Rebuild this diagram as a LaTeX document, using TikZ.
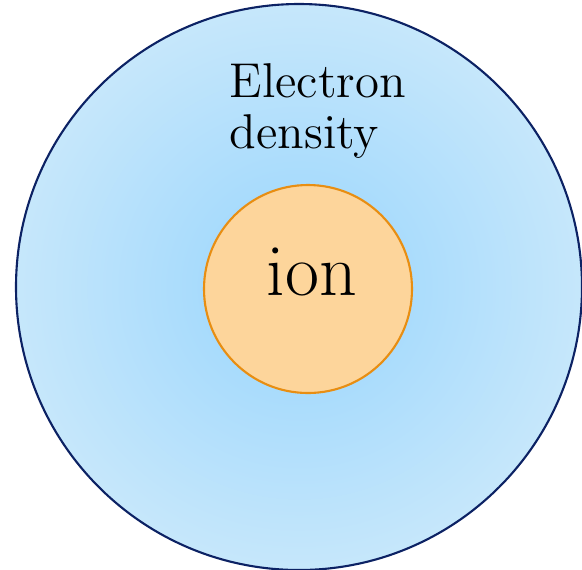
\documentclass[tikz,border=0pt]{standalone}
\usepackage{tikz}
\usetikzlibrary{positioning}
\definecolor{cloudin}{RGB}{152,213,253}
\definecolor{cloudout}{RGB}{198,231,251}
\definecolor{cloudline}{RGB}{12,34,100}
\definecolor{ionfill}{RGB}{253,213,155}
\definecolor{ionline}{RGB}{232,142,18}
\tikzset{cloud/.style={draw=cloudline,line width=0.6pt,inner color=cloudin,outer color=cloudout},
  ionball/.style={draw=ionline,line width=0.6pt,fill=ionfill}}

\begin{document}
\begin{tikzpicture}[x=0.01cm,y=-0.01cm]
\useasboundingbox (0,0) rectangle (582,569);
\clip (0,0) rectangle (582,569);
\draw[cloud] (299,287) circle (283);
\draw[ionball] (308,289) circle (104);
\node[anchor=base,inner sep=0pt,font=\fontsize{21}{25}\selectfont] (ion) at (312,295) {ion};
\node[anchor=base west,inner sep=0pt,align=left,font=\fontsize{13.9}{14.5}\selectfont] (density) at (229,148) {Electron\\density};
\end{tikzpicture}
\end{document}
